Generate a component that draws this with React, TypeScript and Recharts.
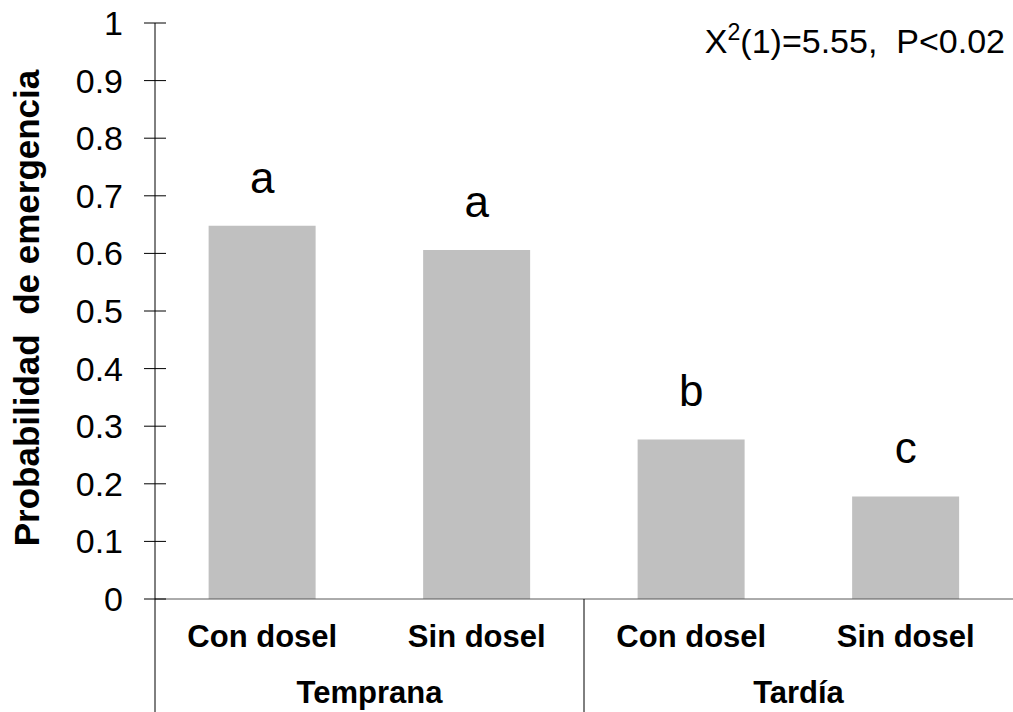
import { Bar, BarChart, LabelList, XAxis, YAxis } from 'recharts'

const treatments = ['Con dosel', 'Sin dosel', 'Con dosel', 'Sin dosel']
const periods = ['Temprana', 'Temprana', 'Tardía', 'Tardía']
const probabilities = [0.648, 0.606, 0.277, 0.178]
const letters = ['a', 'a', 'b', 'c']
const yTicks = [0, 0.1, 0.2, 0.3, 0.4, 0.5, 0.6, 0.7, 0.8, 0.9, 1]

const data = treatments.map((treatment, i) => ({
  treatment,
  period: periods[i],
  value: probabilities[i],
  letter: letters[i],
}))

const FONT = '"Liberation Sans", Arial, sans-serif'
const BAR_FILL = '#c0c0c0'
const INK = '#000000'
const RULE = '#595959'

// value ticks cross the axis line: text sits tickSize + tickMargin left of it
function YTick({ x, y, payload }: any) {
  const axisX = x + 32
  return (
    <g>
      <line x1={axisX - 11} x2={axisX + 11} y1={y} y2={y} stroke={INK} strokeWidth={1} />
      <text x={x} y={y} dy="0.355em" textAnchor="end" fontSize={34} fontFamily={FONT} fill={INK}>
        {String(payload.value)}
      </text>
    </g>
  )
}

// treatment name on the first row, period name centred under its pair of bars
function XTick({ x, y, index, payload }: any) {
  const half = payload.offset ?? 0
  const startsGroup = index === 0 || periods[index] !== periods[index - 1]
  return (
    <g>
      <text x={x} y={y + 48} textAnchor="middle" fontSize={31} fontWeight="bold" fontFamily={FONT} fill={INK}>
        {payload.value}
      </text>
      {startsGroup && (
        <>
          <line x1={x - half} x2={x - half} y1={y} y2={y + 113} stroke={INK} strokeWidth={1} />
          <text x={x + half} y={y + 104} textAnchor="middle" fontSize={31} fontWeight="bold" fontFamily={FONT} fill={INK}>
            {periods[index]}
          </text>
        </>
      )}
    </g>
  )
}

export default function App() {
  return (
    <div style={{ position: 'absolute', left: 0, top: 0, width: 1013, height: 712, background: '#fff' }}>
      <BarChart
        width={1013}
        height={712}
        data={data}
        margin={{ top: 23, right: 0, bottom: 0, left: 0 }}
        barCategoryGap="25%"
      >
        <XAxis
          dataKey="treatment"
          interval={0}
          height={113}
          tickLine={false}
          tickSize={0}
          tickMargin={0}
          axisLine={{ stroke: RULE }}
          tick={(p: any) => <XTick {...p} />}
        />
        <YAxis
          domain={[0, 1]}
          ticks={yTicks}
          interval={0}
          width={155}
          tickLine={false}
          tickSize={11}
          tickMargin={21}
          axisLine={{ stroke: INK }}
          tick={(p: any) => <YTick {...p} />}
          label={{
            value: 'Probabilidad\u00a0 de emergencia',
            angle: -90,
            position: 'center',
            dx: -51,
            dy: -3,
            fontSize: 35,
            fontWeight: 'bold',
            fontFamily: FONT,
            fill: INK,
          }}
        />
        <Bar dataKey="value" fill={BAR_FILL} isAnimationActive={false}>
          <LabelList
            dataKey="letter"
            position="top"
            offset={33}
            fill={INK}
            fontSize={44}
            fontFamily={FONT}
          />
        </Bar>
      </BarChart>
      <div
        style={{
          position: 'absolute',
          right: 8,
          top: 24,
          fontFamily: FONT,
          fontSize: 34,
          lineHeight: '34px',
          whiteSpace: 'pre',
          color: INK,
        }}
      >
        X<sup style={{ fontSize: '0.68em', verticalAlign: '0.55em', lineHeight: 0 }}>2</sup>(1)=5.55,  P&lt;0.02
      </div>
    </div>
  )
}
